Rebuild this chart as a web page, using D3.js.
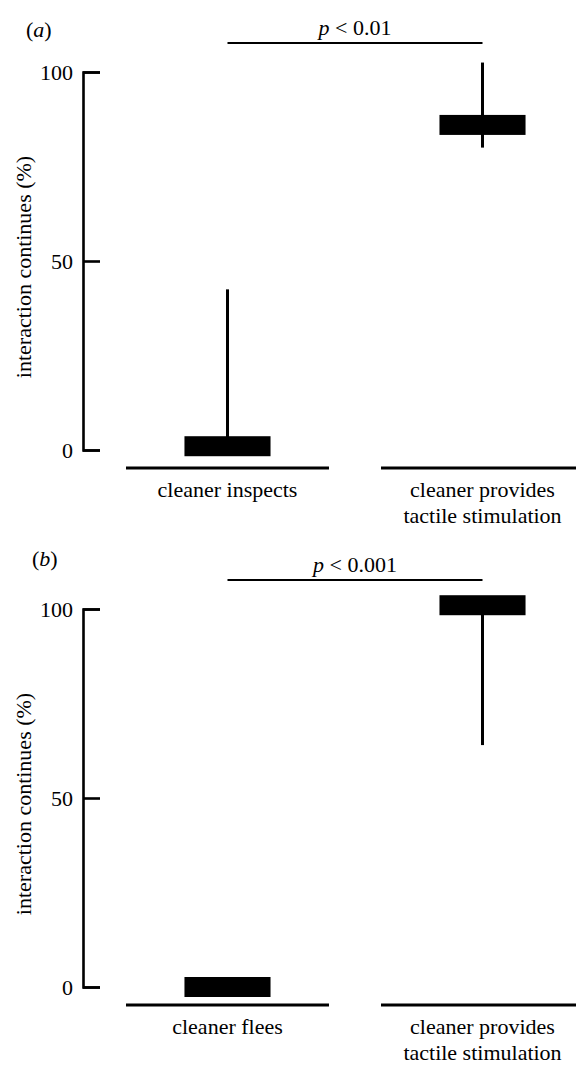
<!DOCTYPE html>
<html>
<head>
<meta charset="utf-8">
<script src="https://cdn.jsdelivr.net/npm/d3@7"></script>
</head>
<body style="margin:0">
<script>
// data
var panelLabels = ["a", "b"];
var pValues = ["0.01", "0.001"];
var categoriesA = ["cleaner inspects", "cleaner provides|tactile stimulation"];
var categoriesB = ["cleaner flees", "cleaner provides|tactile stimulation"];
var medianA = [1, 86];
var medianB = [0, 101];
var whiskerLoA = [1, 80];
var whiskerHiA = [42.5, 102.5];
var whiskerLoB = [0, 64];
var whiskerHiB = [0, 101];
var yTicks = [0, 50, 100];

var fontFam = '"Liberation Serif"';

var svgWidth = 576, svgHeight = 1066;

var svg = d3.select("body")
  .append("svg")
  .attr("width", svgWidth)
  .attr("height", svgHeight)
  .style("font-family", fontFam);

var panels = [
  {label: panelLabels[0], p: pValues[0], cats: categoriesA, med: medianA, lo: whiskerLoA, hi: whiskerHiA, top: 0, labelX: 26, labelY: 37},
  {label: panelLabels[1], p: pValues[1], cats: categoriesB, med: medianB, lo: whiskerLoB, hi: whiskerHiB, top: 537, labelX: 32, labelY: 566}
];

function addText(sel) {
  return sel.append("text")
    .style("font-family", fontFam)
    .style("font-size", "22px");
}

panels.forEach(function(pan) {
  var g = svg.append("g").attr("transform", `translate(0, ${pan.top})`);

  var y = d3.scaleLinear().domain([0, 100]).range([450, 72]);
  var x = d3.scaleBand().domain(pan.cats).range([126, 584]).paddingInner(0.204);

  // y axis (bracket style, ticks pointing in)
  var yAxis = d3.axisLeft(y).tickValues(yTicks).tickSize(-17).tickPadding(10);
  var ax = g.append("g")
    .attr("transform", "translate(83,0)")
    .call(yAxis)
    .attr("font-family", null)
    .attr("font-size", null);
  ax.select(".domain").attr("stroke-width", 2.6).attr("fill", "none");
  ax.selectAll(".tick line").attr("stroke-width", 2.6);
  ax.selectAll(".tick text")
    .attr("fill", "#000")
    .style("font-family", fontFam)
    .style("font-size", "22px");

  addText(g)
    .attr("transform", `translate(31, ${(y(0) + y(100)) / 2 + 6}) rotate(-90)`)
    .attr("text-anchor", "middle")
    .text("interaction continues (%)");

  // baseline segments under each group
  g.selectAll(".base")
    .data(pan.cats)
    .enter()
    .append("line")
    .attr("x1", d => x(d))
    .attr("x2", d => x(d) + x.bandwidth())
    .attr("y1", y(0) + 18)
    .attr("y2", y(0) + 18)
    .attr("stroke", "#000")
    .attr("stroke-width", 3);

  // category labels
  pan.cats.forEach(function(c) {
    var cx = x(c) + x.bandwidth() / 2;
    c.split("|").forEach(function(line, i) {
      addText(g)
        .attr("text-anchor", "middle")
        .attr("x", cx)
        .attr("y", 497 + i * 26)
        .text(line);
    });
  });

  // whiskers
  g.selectAll(".whisker")
    .data(pan.cats)
    .enter()
    .append("line")
    .attr("x1", d => x(d) + x.bandwidth() / 2)
    .attr("x2", d => x(d) + x.bandwidth() / 2)
    .attr("y1", (d, i) => y(pan.lo[i]))
    .attr("y2", (d, i) => y(pan.hi[i]))
    .attr("stroke", "#000")
    .attr("stroke-width", 3);

  // median bars
  var boxW = x.bandwidth() * 0.424;
  g.selectAll(".med")
    .data(pan.cats)
    .enter()
    .append("rect")
    .attr("x", d => x(d) + x.bandwidth() / 2 - boxW / 2)
    .attr("y", (d, i) => y(pan.med[i]) - 10)
    .attr("width", boxW)
    .attr("height", 20)
    .attr("fill", "#000");

  // significance bar
  var x1 = x(pan.cats[0]) + x.bandwidth() / 2;
  var x2 = x(pan.cats[1]) + x.bandwidth() / 2;
  g.append("line")
    .attr("x1", x1).attr("x2", x2)
    .attr("y1", 43).attr("y2", 43)
    .attr("stroke", "#000")
    .attr("stroke-width", 2);

  var pt = addText(g)
    .attr("x", (x1 + x2) / 2)
    .attr("y", 35)
    .attr("text-anchor", "middle");
  pt.append("tspan").style("font-style", "italic").text("p");
  pt.append("tspan").text(" < " + pan.p);

  // panel letter
  var lt = addText(svg)
    .attr("x", pan.labelX)
    .attr("y", pan.labelY);
  lt.append("tspan").text("(");
  lt.append("tspan").style("font-style", "italic").text(pan.label);
  lt.append("tspan").text(")");
});
</script>
</body>
</html>
